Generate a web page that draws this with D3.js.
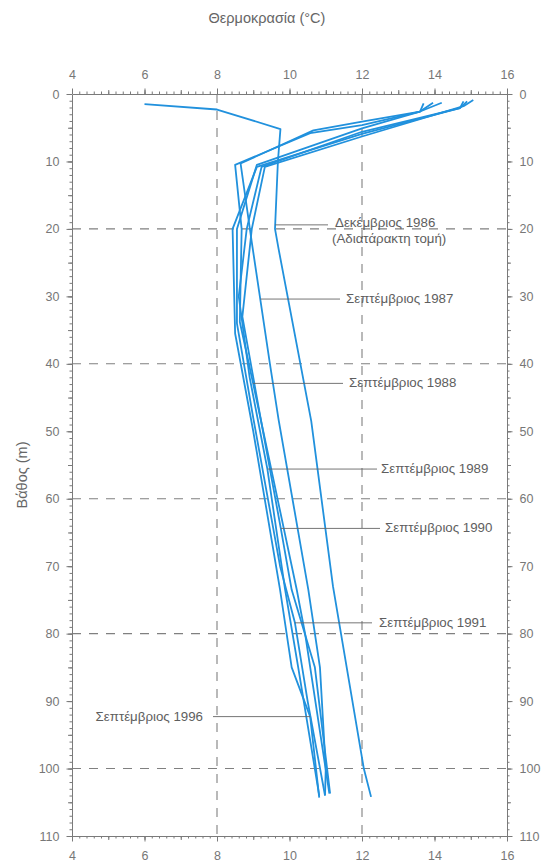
<!DOCTYPE html>
<html>
<head>
<meta charset="utf-8">
<script src="https://cdn.jsdelivr.net/npm/d3@7"></script>
<style>
  body { margin: 0; background: #fff; }
  text { font-family: "Liberation Sans", Arial, sans-serif; }
</style>
</head>
<body>
<div id="chart"></div>
<script>
// tick values
var tempTicks = [4, 6, 8, 10, 12, 14, 16];
var depthTicks = [0, 10, 20, 30, 40, 50, 60, 70, 80, 90, 100, 110];
var gridTemps = [8, 12];
var gridDepths = [20, 40, 60, 80, 100];

// profiles: [temperature (°C), depth (m)]
var dec1986 = [[6.0, 1.5], [8.0, 2.3], [9.75, 5.2], [9.68, 10], [9.6, 20], [9.7, 23], [10.6, 48.5], [11.2, 73], [12.05, 100], [12.25, 104.2]];
var sep1987 = [[13.7, 1.4], [13.6, 2.6], [12.0, 4.1], [10.66, 5.4], [8.65, 10.3], [8.96, 22], [9.46, 40], [9.7, 48.3], [10.52, 73.5], [10.84, 85], [11.0, 100], [10.98, 104]];
var sep1988 = [[13.96, 1.3], [13.6, 2.6], [12.0, 4.6], [10.57, 5.8], [8.5, 10.5], [8.68, 20], [8.63, 33.8], [9.0, 43], [10.2, 73.5], [10.43, 80], [11.1, 103.7]];
var sep1989 = [[14.8, 1.1], [14.7, 2.1], [12.0, 5.6], [9.23, 10.8], [8.82, 20], [8.6, 30], [8.9, 42], [9.39, 55.6], [9.88, 73.5], [10.24, 85], [10.82, 104]];
var sep1990 = [[15.07, 0.9], [14.8, 1.8], [12.0, 6.3], [9.32, 10.8], [8.96, 20], [8.7, 33], [9.2, 48], [9.76, 64.4], [10.06, 73.5], [10.7, 85], [11.12, 103.7]];
var sep1991 = [[14.2, 1.3], [13.6, 2.6], [12.0, 5.1], [9.1, 10.5], [8.55, 20], [8.55, 34], [9.0, 48], [9.74, 70], [10.15, 78.4], [10.5, 90], [10.98, 104]];
var sep1996 = [[14.9, 1.1], [14.7, 2.1], [12.0, 5.9], [9.1, 10.8], [8.43, 20], [8.5, 35.5], [9.0, 50], [9.74, 73.5], [10.06, 85], [10.57, 92.3], [10.82, 104.3]];

var profiles = [dec1986, sep1987, sep1988, sep1989, sep1990, sep1991, sep1996];
var labelTexts = ['Δεκέμβριος 1986', 'Σεπτέμβριος 1987', 'Σεπτέμβριος 1988', 'Σεπτέμβριος 1989', 'Σεπτέμβριος 1990', 'Σεπτέμβριος 1991', 'Σεπτέμβριος 1996'];
var labelDepths = [19.4, 30.4, 42.9, 55.6, 64.4, 78.4, 92.3];

var chart_width = 541, chart_height = 866;
var axisColor = '#7a7a7a', textColor = '#777', lineColor = '#2191dd';

var svg = d3.select('#chart')
            .append('svg')
            .attr('width', chart_width)
            .attr('height', chart_height);

var x_scale = d3.scaleLinear().domain([4, 16]).range([72, 507]);
var y_scale = d3.scaleLinear().domain([0, 110]).range([94, 836]);

// Grid
svg.selectAll('.vgrid').data(gridTemps).enter().append('line')
    .attr('x1', (d) => x_scale(d)).attr('x2', (d) => x_scale(d))
    .attr('y1', y_scale(0)).attr('y2', y_scale(110))
    .attr('stroke', '#808080').attr('stroke-dasharray', '9,8').attr('stroke-width', 1.1);
svg.selectAll('.hgrid').data(gridDepths).enter().append('line')
    .attr('x1', x_scale(4)).attr('x2', x_scale(16))
    .attr('y1', (d) => y_scale(d)).attr('y2', (d) => y_scale(d))
    .attr('stroke', '#808080').attr('stroke-dasharray', '9,8').attr('stroke-width', 1.1);

// Axes: minor, medium and labelled ticks
function drawAxis(axisFn, scale, minorVals, midVals, majorVals, transform, pad) {
    var g = svg.append('g').attr('transform', transform);
    g.call(axisFn(scale).tickValues(minorVals).tickSize(2.5).tickSizeOuter(0).tickFormat(''));
    g.append('g').call(axisFn(scale).tickValues(midVals).tickSize(4).tickSizeOuter(0).tickFormat(''))
        .select('.domain').remove();
    g.append('g').call(axisFn(scale).tickValues(majorVals).tickSize(5.5).tickSizeOuter(0).tickPadding(pad))
        .select('.domain').remove();
    g.selectAll('path, line').attr('stroke', axisColor);
    g.selectAll('text').attr('fill', textColor).style('font-size', '12.5px');
}
var tMinor = d3.range(4, 16.001, 0.2), tMid = d3.range(4, 16.001, 1);
var dMinor = d3.range(0, 110.001, 1), dMid = d3.range(0, 110.001, 5);
drawAxis(d3.axisTop, x_scale, tMinor, tMid, tempTicks, 'translate(0,' + y_scale(0) + ')', 10);
drawAxis(d3.axisBottom, x_scale, tMinor, tMid, tempTicks, 'translate(0,' + y_scale(110) + ')', 10);
drawAxis(d3.axisLeft, y_scale, dMinor, dMid, depthTicks, 'translate(' + x_scale(4) + ',0)', 7);
drawAxis(d3.axisRight, y_scale, dMinor, dMid, depthTicks, 'translate(' + x_scale(16) + ',0)', 7);

// Profiles
var line = d3.line().x((d) => x_scale(d[0])).y((d) => y_scale(d[1]));
svg.selectAll('.profile').data(profiles).enter().append('path')
    .attr('d', line)
    .attr('fill', 'none')
    .attr('stroke', lineColor)
    .attr('stroke-width', 1.8)
    .attr('stroke-linejoin', 'round');

// temperature of a profile at a depth
function tempAt(p, depth) {
    for (var i = 1; i < p.length; i++) {
        if (p[i][1] >= depth) {
            var t = (depth - p[i - 1][1]) / (p[i][1] - p[i - 1][1]);
            return p[i - 1][0] + t * (p[i][0] - p[i - 1][0]);
        }
    }
    return p[p.length - 1][0];
}

// Labels with leader lines (leader end x, text x)
var labelPos = [[328, 335], [340, 346], [343, 349], [377, 381], [380, 385], [372, 379], [213, 203]];
labelTexts.forEach((txt, i) => {
    var y = y_scale(labelDepths[i]);
    var xl = x_scale(tempAt(profiles[i], labelDepths[i]));
    svg.append('line')
        .attr('x1', xl).attr('x2', labelPos[i][0])
        .attr('y1', y).attr('y2', y)
        .attr('stroke', '#666').attr('stroke-width', 0.9);
    svg.append('text')
        .attr('x', labelPos[i][1]).attr('y', y + (i === 0 ? 2 : 4))
        .attr('text-anchor', i === 6 ? 'end' : 'start')
        .attr('fill', '#5e5e5e').style('font-size', '13.3px')
        .text(txt);
});
svg.append('text')
    .attr('x', labelPos[0][1] - 3).attr('y', y_scale(labelDepths[0]) + 18)
    .attr('fill', '#5e5e5e').style('font-size', '13.3px')
    .text('(Αδιατάρακτη τομή)');

// Titles
svg.append('text')
    .attr('x', 267).attr('y', 23)
    .attr('text-anchor', 'middle')
    .attr('fill', '#666').style('font-size', '14.5px')
    .text('Θερμοκρασία (°C)');
svg.append('text')
    .attr('transform', 'translate(27,475) rotate(-90)')
    .attr('text-anchor', 'middle')
    .attr('fill', '#666').style('font-size', '14.5px')
    .text('Βάθος (m)');
</script>
</body>
</html>
